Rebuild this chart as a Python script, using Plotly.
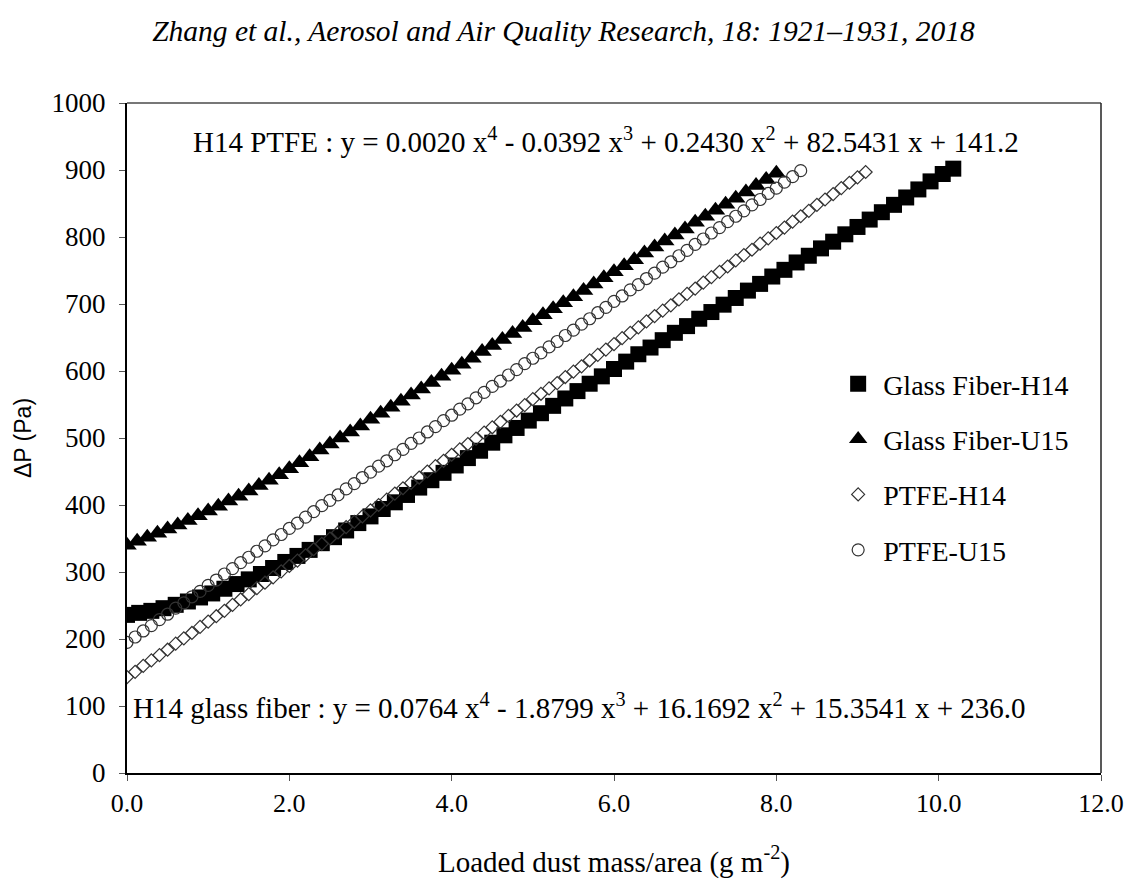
import plotly.graph_objects as go

# ---------------- data ----------------
x_gf_h14 = [0.00, 0.15, 0.30, 0.45, 0.60, 0.75, 0.90, 1.05, 1.20, 1.35, 1.50, 1.65, 1.80, 1.95,
            2.10, 2.25, 2.40, 2.55, 2.70, 2.85, 3.00, 3.15, 3.30, 3.45, 3.60, 3.75, 3.90, 4.05,
            4.20, 4.35, 4.50, 4.65, 4.80, 4.95, 5.10, 5.25, 5.40, 5.55, 5.70, 5.85, 6.00, 6.15,
            6.30, 6.45, 6.60, 6.75, 6.90, 7.05, 7.20, 7.35, 7.50, 7.65, 7.80, 7.95, 8.10, 8.25,
            8.40, 8.55, 8.70, 8.85, 9.00, 9.15, 9.30, 9.45, 9.60, 9.75, 9.90, 10.05, 10.18]
y_gf_h14 = [236, 239, 242, 246, 251, 256, 262, 268, 275, 282, 289, 297, 306, 315,
            324, 333, 343, 352, 362, 373, 383, 394, 404, 415, 426, 437, 448, 459,
            470, 481, 493, 504, 515, 526, 537, 548, 559, 570, 581, 592, 603, 614,
            625, 635, 646, 657, 667, 678, 688, 699, 709, 720, 730, 741, 751, 762,
            772, 783, 793, 804, 815, 826, 837, 848, 859, 871, 883, 894, 902]

x_gf_u15 = [0.000, 0.125, 0.250, 0.375, 0.500, 0.625, 0.750, 0.875, 1.000, 1.125, 1.250, 1.375,
            1.500, 1.625, 1.750, 1.875, 2.000, 2.125, 2.250, 2.375, 2.500, 2.625, 2.750, 2.875,
            3.000, 3.125, 3.250, 3.375, 3.500, 3.625, 3.750, 3.875, 4.000, 4.125, 4.250, 4.375,
            4.500, 4.625, 4.750, 4.875, 5.000, 5.125, 5.250, 5.375, 5.500, 5.625, 5.750, 5.875,
            6.000, 6.125, 6.250, 6.375, 6.500, 6.625, 6.750, 6.875, 7.000, 7.125, 7.250, 7.375,
            7.500, 7.625, 7.750, 7.875, 8.000]
y_gf_u15 = [340, 346, 352, 358, 364, 370, 377, 384, 391, 398, 406, 413,
            421, 429, 437, 445, 454, 463, 472, 482, 491, 500, 509, 518,
            528, 537, 546, 555, 564, 573, 583, 592, 601, 610, 619, 629,
            638, 647, 656, 665, 675, 684, 693, 702, 711, 720, 730, 739,
            748, 757, 766, 776, 785, 794, 803, 812, 822, 831, 840, 849,
            858, 867, 877, 886, 895]

x_ptfe_h14 = [0.0, 0.1, 0.2, 0.3, 0.4, 0.5, 0.6, 0.7, 0.8, 0.9, 1.0, 1.1, 1.2, 1.3, 1.4, 1.5,
              1.6, 1.7, 1.8, 1.9, 2.0, 2.1, 2.2, 2.3, 2.4, 2.5, 2.6, 2.7, 2.8, 2.9, 3.0, 3.1,
              3.2, 3.3, 3.4, 3.5, 3.6, 3.7, 3.8, 3.9, 4.0, 4.1, 4.2, 4.3, 4.4, 4.5, 4.6, 4.7,
              4.8, 4.9, 5.0, 5.1, 5.2, 5.3, 5.4, 5.5, 5.6, 5.7, 5.8, 5.9, 6.0, 6.1, 6.2, 6.3,
              6.4, 6.5, 6.6, 6.7, 6.8, 6.9, 7.0, 7.1, 7.2, 7.3, 7.4, 7.5, 7.6, 7.7, 7.8, 7.9,
              8.0, 8.1, 8.2, 8.3, 8.4, 8.5, 8.6, 8.7, 8.8, 8.9, 9.0, 9.1]
y_ptfe_h14 = [143, 151, 160, 168, 176, 184, 193, 201, 209, 218, 226, 234, 242, 251, 259, 267,
              276, 284, 292, 301, 309, 317, 325, 334, 342, 350, 359, 367, 375, 383, 392, 400,
              408, 417, 425, 433, 441, 450, 458, 466, 475, 483, 491, 499, 508, 516, 524, 533,
              541, 549, 558, 566, 574, 582, 591, 599, 607, 616, 624, 632, 640, 649, 657, 665,
              674, 682, 690, 698, 707, 715, 723, 732, 740, 748, 756, 765, 773, 781, 790, 798,
              806, 814, 823, 831, 839, 848, 856, 864, 873, 881, 889, 897]

x_ptfe_u15 = [0.0, 0.1, 0.2, 0.3, 0.4, 0.5, 0.6, 0.7, 0.8, 0.9, 1.0, 1.1, 1.2, 1.3, 1.4, 1.5,
              1.6, 1.7, 1.8, 1.9, 2.0, 2.1, 2.2, 2.3, 2.4, 2.5, 2.6, 2.7, 2.8, 2.9, 3.0, 3.1,
              3.2, 3.3, 3.4, 3.5, 3.6, 3.7, 3.8, 3.9, 4.0, 4.1, 4.2, 4.3, 4.4, 4.5, 4.6, 4.7,
              4.8, 4.9, 5.0, 5.1, 5.2, 5.3, 5.4, 5.5, 5.6, 5.7, 5.8, 5.9, 6.0, 6.1, 6.2, 6.3,
              6.4, 6.5, 6.6, 6.7, 6.8, 6.9, 7.0, 7.1, 7.2, 7.3, 7.4, 7.5, 7.6, 7.7, 7.8, 7.9,
              8.0, 8.1, 8.2, 8.3]
y_ptfe_u15 = [195, 203, 212, 220, 229, 237, 246, 254, 263, 271, 280, 288, 297, 305, 314, 322,
              331, 339, 348, 356, 365, 373, 382, 390, 399, 407, 415, 424, 432, 441, 449, 458,
              466, 475, 483, 492, 500, 509, 517, 526, 534, 543, 551, 560, 568, 577, 585, 594,
              602, 611, 619, 627, 636, 644, 653, 661, 670, 678, 687, 695, 704, 712, 721, 729,
              738, 746, 755, 763, 772, 780, 789, 797, 806, 814, 823, 831, 839, 848, 856, 865,
              873, 882, 890, 899]

series_names = ["Glass Fiber-H14", "Glass Fiber-U15", "PTFE-H14", "PTFE-U15"]

x_ticks = [0, 2, 4, 6, 8, 10, 12]
y_ticks = [0, 100, 200, 300, 400, 500, 600, 700, 800, 900, 1000]

title_text = "Zhang et al., Aerosol and Air Quality Research, 18: 1921\u20131931, 2018"
eq_ptfe = ("H14 PTFE : y = 0.0020 x<sup>4</sup> - 0.0392 x<sup>3</sup> + 0.2430 x<sup>2</sup>"
           " + 82.5431 x + 141.2")
eq_glass = ("H14 glass fiber : y = 0.0764 x<sup>4</sup> - 1.8799 x<sup>3</sup> + 16.1692 x<sup>2</sup>"
            " + 15.3541 x + 236.0")

# ---------------- figure ----------------
SERIF = "Liberation Serif, Times New Roman, serif"
SANS = "Liberation Sans, Arial, sans-serif"
W, H = 1127, 880
fig = go.Figure()

fig.add_trace(go.Scatter(x=x_gf_h14, y=y_gf_h14, mode="markers", name=series_names[0],
                         legendgroup="a",
                         marker=dict(symbol="square", size=16, color="black",
                                     line=dict(width=0))))
fig.add_trace(go.Scatter(x=x_gf_u15, y=y_gf_u15, mode="markers", name=series_names[1],
                         legendgroup="b",
                         marker=dict(symbol="triangle-up", size=17, color="black",
                                     line=dict(width=0))))
fig.add_trace(go.Scatter(x=x_ptfe_h14, y=y_ptfe_h14, mode="markers", name=series_names[2],
                         legendgroup="c",
                         marker=dict(symbol="diamond-open", size=10, color="#333333",
                                     line=dict(width=1.2, color="#333333"))))
fig.add_trace(go.Scatter(x=x_ptfe_u15, y=y_ptfe_u15, mode="markers", name=series_names[3],
                         legendgroup="d",
                         marker=dict(symbol="circle-open", size=12, color="#333333",
                                     line=dict(width=1.2, color="#333333"))))

fig.update_layout(
    width=W, height=H,
    margin=dict(l=127, r=26, t=103, b=107),
    paper_bgcolor="white", plot_bgcolor="white",
    font=dict(family=SERIF, size=28, color="black"),
    showlegend=True,
    legend=dict(x=0.725, y=0.618, xanchor="left", yanchor="top",
                font=dict(family=SERIF, size=28, color="black"),
                bgcolor="rgba(0,0,0,0)", tracegroupgap=16, itemwidth=40),
    title=dict(text="<i>" + title_text + "</i>", x=0.5, xanchor="center",
               y=1 - 31 / H, yanchor="middle", yref="container",
               font=dict(family=SERIF, size=29.5, color="black")),
)

fig.update_xaxes(range=[0, 12], tickvals=x_ticks, tickformat=".1f",
                 showgrid=False, zeroline=False, automargin=False,
                 showline=True, linecolor="black", linewidth=2,
                 ticks="outside", ticklen=6, tickcolor="#555", tickwidth=1,
                 ticklabeloverflow="allow",
                 tickfont=dict(family=SERIF, size=26, color="black"),
                 title=dict(text="Loaded dust mass/area (g m<sup>-2</sup>)", standoff=34,
                            font=dict(family=SERIF, size=29, color="black")))
fig.update_yaxes(range=[0, 1000], tickvals=y_ticks,
                 showgrid=False, zeroline=False, automargin=False,
                 showline=True, linecolor="black", linewidth=2,
                 ticks="outside", ticklen=6, tickcolor="#555", tickwidth=1,
                 ticklabelstandoff=8, ticklabeloverflow="allow",
                 tickfont=dict(family=SERIF, size=27, color="black"),
                 title=dict(text="\u0394P (Pa)", standoff=14,
                            font=dict(family=SANS, size=23, color="black")))

# top / right border of the plot area
fig.add_shape(type="line", xref="paper", yref="paper", x0=0, x1=1, y0=1, y1=1,
              line=dict(color="#777777", width=2))
fig.add_shape(type="line", xref="paper", yref="paper", x0=1, x1=1, y0=0, y1=1,
              line=dict(color="#222222", width=1.5))

fig.add_annotation(text=eq_ptfe, x=5.9, y=945, xref="x", yref="y", showarrow=False,
                   font=dict(family=SERIF, size=29, color="black"))
fig.add_annotation(text=eq_glass, x=5.57, y=100, xref="x", yref="y", showarrow=False,
                   font=dict(family=SERIF, size=29, color="black"))

# remove the page's default body margin so the figure fills the window exactly
fig.write_html("out.html", config={"displayModeBar": False},
               post_script="document.body.style.margin='0px';document.body.style.overflow='hidden';")
